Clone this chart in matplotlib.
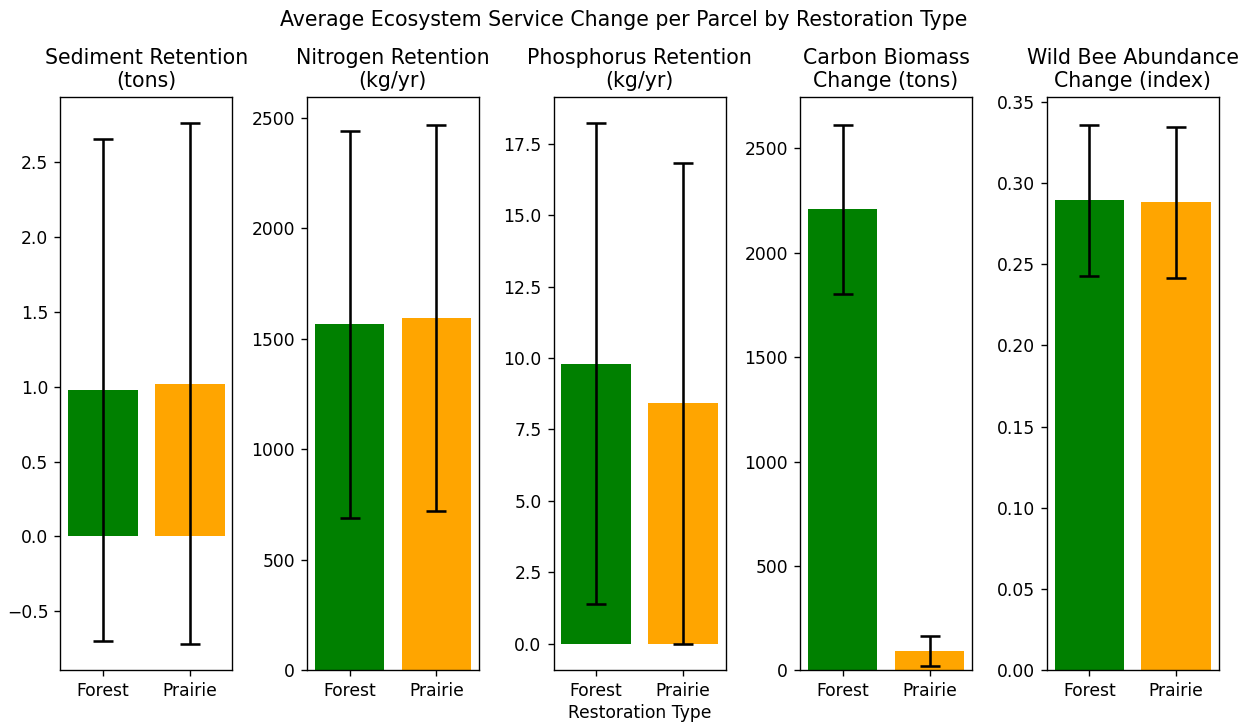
import matplotlib
matplotlib.use("Agg")
import matplotlib.pyplot as plt

# Restoration types and bar colours
categories = ["Forest", "Prairie"]
colors = ["green", "orange"]

# Panel titles (metric and unit)
titles = [
    "Sediment Retention\n(tons)",
    "Nitrogen Retention\n(kg/yr)",
    "Phosphorus Retention\n(kg/yr)",
    "Carbon Biomass\nChange (tons)",
    "Wild Bee Abundance\nChange (index)",
]

# Mean change per parcel for each restoration type
sediment_mean = [0.98, 1.02]
nitrogen_mean = [1564, 1594]
phosphorus_mean = [9.80, 8.41]
carbon_mean = [2209, 92]
bee_mean = [0.2893, 0.2880]

# Error bar half-widths
sediment_err = [1.675, 1.740]
nitrogen_err = [875, 874]
phosphorus_err = [8.41, 8.43]
carbon_err = [405, 72]
bee_err = [0.0465, 0.0465]

means = [sediment_mean, nitrogen_mean, phosphorus_mean, carbon_mean, bee_mean]
errors = [sediment_err, nitrogen_err, phosphorus_err, carbon_err, bee_err]

dpi = 123
fig, axes = plt.subplots(1, 5, figsize=(1247 / dpi, 723 / dpi), dpi=dpi)
fig.subplots_adjust(left=0.0484, right=0.9773, top=0.8654, bottom=0.0729,
                    wspace=0.434)

for ax, title, m, e in zip(axes, titles, means, errors):
    ax.bar(categories, m, yerr=e, color=colors, capsize=6,
           error_kw=dict(ecolor="black", elinewidth=1.5, capthick=1.5))
    ax.set_title(title, fontsize=12)
    ax.tick_params(labelsize=10)

axes[2].set_xlabel("Restoration Type", fontsize=10, labelpad=2)
fig.suptitle("Average Ecosystem Service Change per Parcel by Restoration Type",
             fontsize=12, y=0.986, va="top")

fig.savefig("out.png", dpi=dpi)
